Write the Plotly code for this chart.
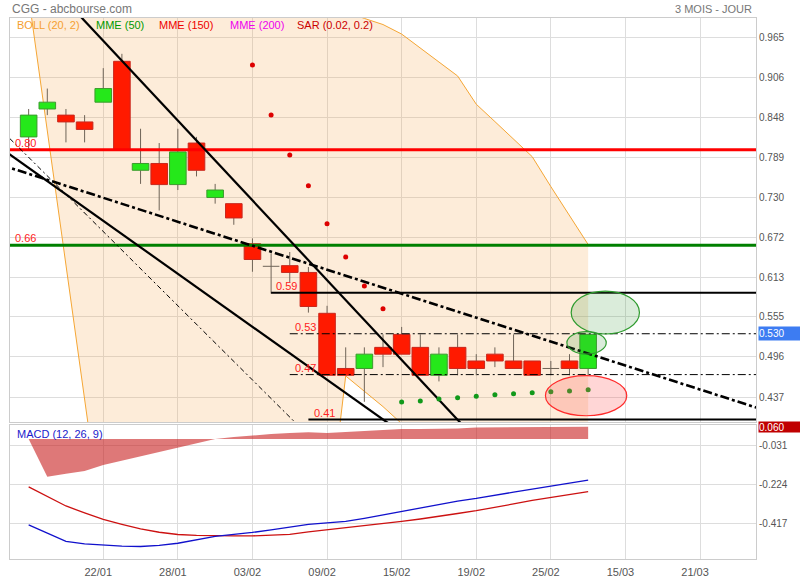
import plotly.graph_objects as go

# ---------------- data ----------------
date_labels = ["22/01", "28/01", "03/02", "09/02", "15/02", "19/02", "25/02", "15/03", "21/03"]
date_index = [4, 8, 12, 16, 20, 24, 28, 32, 36]

open_ = [0.819, 0.860, 0.851, 0.841, 0.870, 0.930, 0.770, 0.780, 0.749, 0.810,
         0.730, 0.721, 0.662, 0.629, 0.630, 0.620, 0.560, 0.479, 0.479, 0.510,
         0.529, 0.510, 0.469, 0.510, 0.490, 0.500, 0.490, 0.490, 0.479, 0.490, 0.479]
high = [0.860, 0.890, 0.860, 0.851, 0.920, 0.941, 0.831, 0.810, 0.831, 0.819,
        0.750, 0.721, 0.670, 0.648, 0.650, 0.628, 0.571, 0.510, 0.510, 0.529,
        0.540, 0.529, 0.510, 0.529, 0.500, 0.510, 0.529, 0.490, 0.490, 0.500, 0.529]
low = [0.801, 0.851, 0.811, 0.811, 0.870, 0.800, 0.750, 0.711, 0.741, 0.761,
       0.721, 0.690, 0.621, 0.589, 0.605, 0.561, 0.469, 0.469, 0.430, 0.481,
       0.500, 0.469, 0.460, 0.469, 0.469, 0.481, 0.479, 0.469, 0.469, 0.469, 0.469]
close = [0.851, 0.870, 0.841, 0.830, 0.890, 0.800, 0.780, 0.749, 0.797, 0.770,
         0.741, 0.700, 0.639, 0.629, 0.620, 0.570, 0.469, 0.469, 0.500, 0.500,
         0.500, 0.469, 0.500, 0.479, 0.479, 0.490, 0.479, 0.469, 0.479, 0.479, 0.529]

boll_upper = [1.06, 1.07, 1.08, 1.09, 1.10, 1.10, 1.09, 1.08, 1.07, 1.06,
              1.05, 1.04, 1.03, 1.02, 1.015, 1.01, 1.007, 1.003, 0.993, 0.984,
              0.970, 0.949, 0.929, 0.9085, 0.867, 0.8415, 0.816, 0.790, 0.746, 0.704, 0.661]
boll_lower = [1.025, 0.828, 0.631, 0.434, 0.237, 0.22, 0.21, 0.20, 0.20, 0.21,
              0.22, 0.23, 0.23, 0.23, 0.235, 0.236, 0.237, 0.468, 0.445, 0.423,
              0.398, 0.385, 0.38, 0.375, 0.37, 0.37, 0.37, 0.375, 0.38, 0.385, 0.39]

sar_red_idx = [12, 13, 14, 15, 16, 17, 18, 19]
sar_red = [0.9246, 0.8512, 0.7925, 0.7474, 0.6916, 0.6426, 0.600, 0.5667]
sar_green_idx = [20, 21, 22, 23, 24, 25, 26, 27, 28, 29, 30]
sar_green = [0.4298, 0.4312, 0.4341, 0.436, 0.4381, 0.4405, 0.4419, 0.4434, 0.4449, 0.4459, 0.4478]

levels = [0.80, 0.66, 0.59, 0.53, 0.47, 0.404]
level_labels = ["0.80", "0.66", "0.59", "0.53", "0.47", "0.41"]
level_start = [-1, -1, 13, 14, 14, 15]
level_end = 39
level_color = ["#FF0000", "#008000", "#000000", "#000000", "#000000", "#000000"]
level_width = [3, 3, 2, 1, 1, 2]
level_dash = ["solid", "solid", "solid", "8px,3px,2px,3px", "8px,3px,2px,3px", "solid"]

trend_x = [[2.6, 24.0], [-1.5, 20.0], [-1.5, 15.0], [-1.5, 39.5]]
trend_y = [[1.0011, 0.3744], [0.8027, 0.3847], [0.8299, 0.3804], [0.7780, 0.4173]]
trend_width = [2.2, 2.2, 1, 2.6]
trend_dash = ["solid", "solid", "5px,3px,2px,3px", "9px,3px,3px,3px"]

ell_x0 = [29.09, 28.86, 27.71]
ell_x1 = [32.75, 30.97, 32.07]
ell_y0 = [0.5296, 0.5002, 0.4096]
ell_y1 = [0.5927, 0.5330, 0.4684]
ell_line = ["#2E9B2E", "#2E9B2E", "#FF2A2A"]
ell_fill = ["rgba(70,160,70,0.20)", "rgba(70,160,70,0.20)", "rgba(255,90,90,0.25)"]

macd = [-0.422, -0.463, -0.503, -0.515, -0.522, -0.526, -0.528, -0.522, -0.512, -0.495,
        -0.478, -0.468, -0.459, -0.446, -0.432, -0.419, -0.412, -0.405, -0.390, -0.373,
        -0.353, -0.336, -0.319, -0.305, -0.292, -0.275, -0.261, -0.246, -0.230, -0.217, -0.202]
signal = [-0.235, -0.280, -0.329, -0.363, -0.395, -0.419, -0.441, -0.458, -0.469, -0.473,
          -0.476, -0.476, -0.476, -0.473, -0.468, -0.456, -0.446, -0.436, -0.427, -0.414,
          -0.405, -0.393, -0.381, -0.366, -0.352, -0.334, -0.319, -0.302, -0.288, -0.273, -0.259]
hist = [0.0, -0.185, -0.171, -0.157, -0.128, -0.107, -0.085, -0.064, -0.043, -0.021,
        0.0, 0.010, 0.018, 0.024, 0.029, 0.033, 0.030, 0.035, 0.040, 0.045,
        0.049, 0.049, 0.049, 0.052, 0.056, 0.057, 0.058, 0.058, 0.059, 0.059, 0.060]

main_ticks = [0.437, 0.496, 0.555, 0.613, 0.672, 0.730, 0.789, 0.848, 0.906, 0.965]
macd_ticks = [-0.417, -0.224, -0.031]
last_price = 0.530
last_hist = 0.060

# ---------------- layout helpers (page pixel -> paper) ----------------
W, H = 800, 580
PL, PR, PT, PB = 10, 756, 18, 559


def px_x(x):
    return (x - PL) / (PR - PL)


def px_y(y):
    return (PB - y) / (PB - PT)


FONT = "Liberation Sans, Arial, sans-serif"
idx = list(range(len(close)))
hw = 0.445

fig = go.Figure()

# Bollinger band
fig.add_trace(go.Scatter(x=idx, y=boll_upper, mode="lines", line=dict(color="#F5A634", width=1),
                         hoverinfo="skip", xaxis="x", yaxis="y"))
fig.add_trace(go.Scatter(x=idx, y=boll_lower, mode="lines", line=dict(color="#F5A634", width=1),
                         fill="tonexty", fillcolor="rgba(245,170,80,0.22)",
                         hoverinfo="skip", xaxis="x", yaxis="y"))

# wicks
wx, wy = [], []
for i in idx:
    o, h, l, c = open_[i], high[i], low[i], close[i]
    top, bot = max(o, c), min(o, c)
    if o == c:
        wx += [i, i, None, i - hw, i + hw, None]
        wy += [h, l, None, o, o, None]
    else:
        if h > top:
            wx += [i, i, None]
            wy += [h, top, None]
        if l < bot:
            wx += [i, i, None]
            wy += [bot, l, None]
fig.add_trace(go.Scatter(x=wx, y=wy, mode="lines", line=dict(color="#6F6458", width=1),
                         hoverinfo="skip", xaxis="x", yaxis="y"))

# bodies
for up, fillc, linec in [(True, "#25E81A", "#3C9A2E"), (False, "#FF1A00", "#C8281E")]:
    bx, by = [], []
    for i in idx:
        o, c = open_[i], close[i]
        if (c > o) == up and c != o:
            bx += [i - hw, i + hw, i + hw, i - hw, i - hw, None]
            by += [o, o, c, c, o, None]
    fig.add_trace(go.Scatter(x=bx, y=by, mode="lines", fill="toself", fillcolor=fillc,
                             line=dict(color=linec, width=1), hoverinfo="skip",
                             xaxis="x", yaxis="y"))

# horizontal levels
for v, s, col, wd, ds in zip(levels, level_start, level_color, level_width, level_dash):
    fig.add_trace(go.Scatter(x=[s, level_end], y=[v, v], mode="lines",
                             line=dict(color=col, width=wd, dash=ds), hoverinfo="skip",
                             xaxis="x", yaxis="y"))

# trend lines
for tx, ty, wd, ds in zip(trend_x, trend_y, trend_width, trend_dash):
    fig.add_trace(go.Scatter(x=tx, y=ty, mode="lines", line=dict(color="#000000", width=wd, dash=ds),
                             hoverinfo="skip", xaxis="x", yaxis="y"))

# SAR
fig.add_trace(go.Scatter(x=sar_red_idx, y=sar_red, mode="markers",
                         marker=dict(color="#DD0000", size=5), hoverinfo="skip", xaxis="x", yaxis="y"))
fig.add_trace(go.Scatter(x=sar_green_idx, y=sar_green, mode="markers",
                         marker=dict(color="#11991A", size=5), hoverinfo="skip", xaxis="x", yaxis="y"))

# MACD panel
fig.add_trace(go.Scatter(x=idx, y=hist, mode="lines", line=dict(width=0, color="rgba(200,30,30,0.6)"),
                         fill="tozeroy", fillcolor="rgba(200,30,30,0.6)", hoverinfo="skip",
                         xaxis="x2", yaxis="y2"))
fig.add_trace(go.Scatter(x=idx, y=signal, mode="lines", line=dict(color="#CC1111", width=1.3),
                         hoverinfo="skip", xaxis="x2", yaxis="y2"))
fig.add_trace(go.Scatter(x=idx, y=macd, mode="lines", line=dict(color="#1111CC", width=1.3),
                         hoverinfo="skip", xaxis="x2", yaxis="y2"))

# ellipses
shapes = []
for x0, x1, y0, y1, lc, fc in zip(ell_x0, ell_x1, ell_y0, ell_y1, ell_line, ell_fill):
    shapes.append(dict(type="circle", xref="x", yref="y", x0=x0, x1=x1, y0=y0, y1=y1,
                       line=dict(color=lc, width=1.2), fillcolor=fc, layer="above"))

annotations = []
# level labels
for v, s, t in zip(levels, level_start, level_labels):
    annotations.append(dict(x=s + 0.22, y=v, xref="x", yref="y", text=t, showarrow=False,
                            xanchor="left", yanchor="bottom", font=dict(color="#FF2222", size=11, family=FONT),
                            borderpad=0))

# title & legend texts
annotations.append(dict(x=px_x(10), y=px_y(9), xref="paper", yref="paper", text="CGG - abcbourse.com",
                        showarrow=False, xanchor="left", yanchor="middle",
                        font=dict(color="#777777", size=12, family=FONT)))
annotations.append(dict(x=px_x(754), y=px_y(9), xref="paper", yref="paper", text="3 MOIS - JOUR",
                        showarrow=False, xanchor="right", yanchor="middle",
                        font=dict(color="#777777", size=11, family=FONT)))
legend_items = [("BOLL (20, 2)", "#F5A030", 15), ("MME (50)", "#009900", 94),
                ("MME (150)", "#EE0000", 157), ("MME (200)", "#EE00EE", 228),
                ("SAR (0.02, 0.2)", "#CC0000", 295)]
for t, col, xp in legend_items:
    annotations.append(dict(x=px_x(xp), y=px_y(25), xref="paper", yref="paper", text=t,
                            showarrow=False, xanchor="left", yanchor="middle",
                            font=dict(color=col, size=11, family=FONT)))
annotations.append(dict(x=px_x(15), y=px_y(434), xref="paper", yref="paper", text="MACD (12, 26, 9)",
                        showarrow=False, xanchor="left", yanchor="middle",
                        font=dict(color="#1A1ACC", size=11, family=FONT)))

# value boxes on right axis
annotations.append(dict(x=1, y=last_price, xref="paper", yref="y", text=f"{last_price:.3f}",
                        showarrow=False, xanchor="left", yanchor="middle", xshift=2,
                        width=42, height=13, align="left", bgcolor="#3D7CF2", borderpad=0,
                        font=dict(color="white", size=10, family=FONT)))
annotations.append(dict(x=1, y=last_hist, xref="paper", yref="y2", text=f"{last_hist:.3f}",
                        showarrow=False, xanchor="left", yanchor="middle", xshift=2,
                        width=42, height=10, align="left", bgcolor="#C00000", borderpad=0,
                        font=dict(color="white", size=10, family=FONT)))

axis_common = dict(showline=True, linecolor="#CCCCCC", linewidth=1, mirror=True,
                   gridcolor="#DDDDDD", gridwidth=1, zeroline=False, ticks="",
                   tickfont=dict(color="#555555", size=10, family=FONT))

fig.update_layout(
    width=W, height=H,
    margin=dict(l=PL, r=W - PR, t=PT, b=H - PB, autoexpand=False),
    paper_bgcolor="white", plot_bgcolor="white",
    showlegend=False,
    xaxis=dict(domain=[0, 1], anchor="y", range=[-1, 39], tickvals=date_index, ticktext=date_labels,
               showticklabels=False, **axis_common),
    yaxis=dict(domain=[px_y(422), 1], anchor="x", side="right", range=[0.4004, 0.9936],
               tickvals=main_ticks, ticktext=[f"{v:.3f}" for v in main_ticks], **axis_common),
    xaxis2=dict(domain=[0, 1], anchor="y2", matches="x", range=[-1, 39], tickvals=date_index,
                ticktext=date_labels, ticklabelshift=-5, ticklabelstandoff=3,
                **{k: v for k, v in axis_common.items() if k != "tickfont"},
                tickfont=dict(color="#555555", size=11, family=FONT)),
    yaxis2=dict(domain=[0, px_y(425)], anchor="x2", side="right", range=[-0.5894, 0.0687],
                tickvals=macd_ticks, ticktext=[f"{v:.3f}" for v in macd_ticks], **axis_common),
    shapes=shapes,
    annotations=annotations,
)

# remove the browser's default 8px page margin so the figure fills the window exactly
fig.write_html("out.html", config={"displayModeBar": False},
               post_script="document.body.style.margin='0px';")
